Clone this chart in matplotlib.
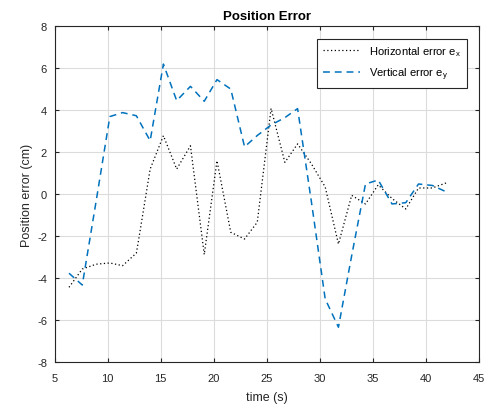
import matplotlib
matplotlib.use("Agg")
import matplotlib.pyplot as plt

plt.rcParams['font.family'] = ['Liberation Sans', 'DejaVu Sans']
plt.rcParams['mathtext.default'] = 'regular'
plt.rcParams['axes.unicode_minus'] = False

# Sample times (s) for each error trace
time_x = [6.35, 7.6, 8.9, 10.2, 11.4, 12.7, 13.0, 14.0, 15.25, 16.5, 17.8, 19.1,
          20.3, 21.6, 22.9, 24.1, 25.4, 26.7, 27.9, 29.2, 30.5, 31.75, 33.0,
          34.3, 35.5, 36.8, 38.1, 39.3, 40.6, 41.9]
err_x = [-4.43, -3.56, -3.33, -3.27, -3.4, -2.8, -1.9, 1.2, 2.79, 1.2, 2.31, -2.87,
         1.6, -1.81, -2.13, -1.33, 4.09, 1.52, 2.4, 1.45, 0.35, -2.37, -0.05,
         -0.46, 0.45, -0.2, -0.7, 0.3, 0.3, 0.54]

time_y = [6.35, 7.6, 8.9, 10.2, 11.4, 12.7, 14.0, 15.25, 16.5, 17.8, 19.1, 20.3,
          21.6, 22.9, 24.1, 25.4, 26.7, 27.9, 29.2, 30.5, 31.75, 33.0, 34.3,
          35.5, 36.8, 38.1, 39.3, 40.6, 41.9]
err_y = [-3.76, -4.32, -0.35, 3.7, 3.89, 3.74, 2.55, 6.2, 4.46, 5.14, 4.43, 5.46,
         5.01, 2.26, 2.8, 3.3, 3.65, 4.08, -0.35, -4.98, -6.33, -2.92, 0.49,
         0.68, -0.46, -0.4, 0.49, 0.42, 0.12]

x_ticks = [5, 10, 15, 20, 25, 30, 35, 40, 45]
y_ticks = [-8, -6, -4, -2, 0, 2, 4, 6, 8]

fig = plt.figure(figsize=(4.94, 4.06), dpi=100)
ax = fig.add_axes([0.1107, 0.1052, 0.8589, 0.8276])

axis_grey = '#262626'
ax.plot(time_x, err_x, color='black', lw=0.9, linestyle=(0, (1, 2.0)),
        label=r'Horizontal error e$_{x}$')
ax.plot(time_y, err_y, color='#0072BD', lw=1.1, linestyle=(0, (4.5, 3.2)),
        label=r'Vertical error e$_{y}$')

ax.set_xlim(5, 45)
ax.set_ylim(-8, 8)
ax.set_xticks(x_ticks)
ax.set_yticks(y_ticks)
ax.grid(True, color='#dcdcdc', lw=0.8)
ax.set_axisbelow(True)
ax.tick_params(direction='in', length=3, width=0.8, colors=axis_grey,
               labelsize=8, top=True, right=True)
ax.tick_params(axis='x', pad=7.5)
ax.tick_params(axis='y', pad=5.5)
for sp in ax.spines.values():
    sp.set_color(axis_grey)
    sp.set_linewidth(0.8)

ax.set_xlabel('time (s)', fontsize=9, color=axis_grey, labelpad=6)
ax.set_ylabel('Position error (cm)', fontsize=9, color=axis_grey, labelpad=3)
ax.set_title('Position Error', fontsize=9.5, fontweight='bold', pad=5)

leg = ax.legend(loc='upper right', fontsize=8, fancybox=False, framealpha=1,
                edgecolor=axis_grey, borderpad=0.5, handlelength=3.4,
                labelspacing=0.7, borderaxespad=1.1)
leg.get_frame().set_linewidth(0.8)

fig.savefig('out.png', dpi=100)
